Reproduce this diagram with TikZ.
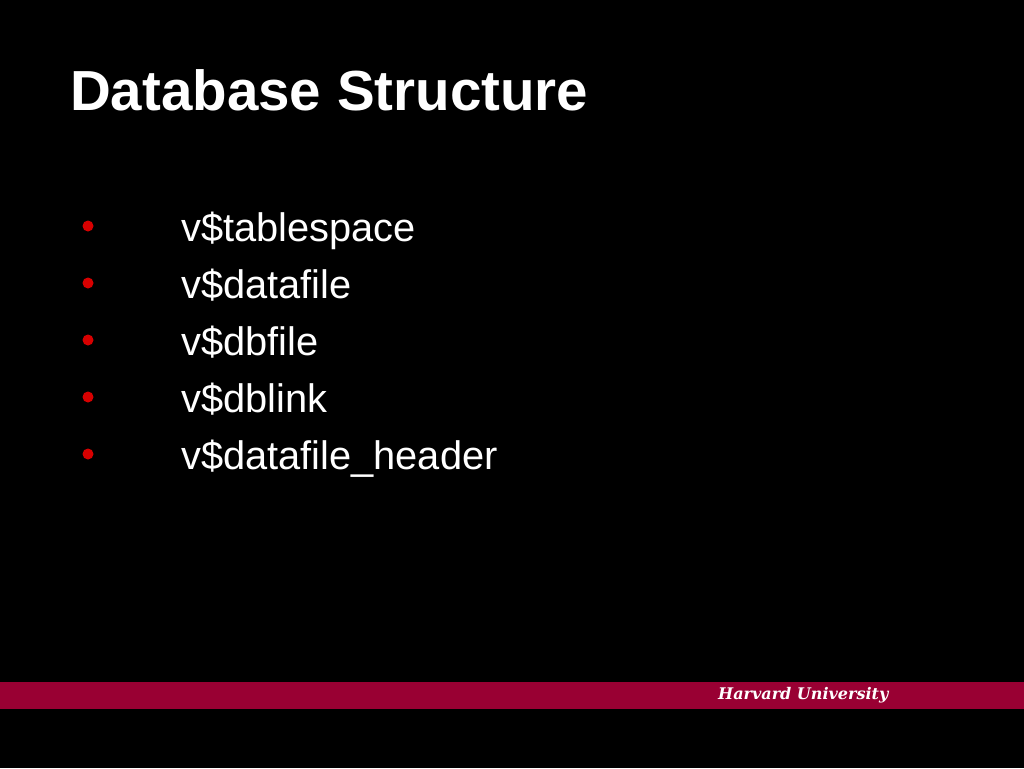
\documentclass[tikz,border=0pt]{standalone}
\usepackage{fontspec}
\setmainfont{Liberation Sans}
\newfontfamily\footfont{DejaVu Serif}
\definecolor{crimson}{RGB}{153,0,51}
\definecolor{bulletred}{RGB}{215,0,0}
\begin{document}
\begin{tikzpicture}[x=1pt,y=-1pt,
  title/.style={anchor=base west,inner sep=0pt,text=white,font=\fontsize{56.5}{60}\selectfont\bfseries},
  item/.style={anchor=base west,inner sep=0pt,text=white,font=\fontsize{39.8}{44}\selectfont},
  dot/.style={circle,fill=bulletred,inner sep=0pt,minimum size=11pt},
  foot/.style={anchor=base west,inner sep=0pt,text=white,font=\footfont\fontsize{16}{18}\selectfont\bfseries\itshape}]
\fill[black] (0,0) rectangle (1024,768);
\useasboundingbox (0,0) rectangle (1024,768);
\fill[crimson] (0,682) rectangle (1024,709);
\node[title] (t) at (70,110) {Database Structure};
\node[dot] (b1) at (88,226) {};
\node[dot] (b2) at (88,283) {};
\node[dot] (b3) at (88,340) {};
\node[dot] (b4) at (88,397) {};
\node[dot] (b5) at (88,454) {};
\node[item] (i1) at (181,241) {v\$tablespace};
\node[item] (i2) at (181,298) {v\$datafile};
\node[item] (i3) at (181,355) {v\$dbfile};
\node[item] (i4) at (181,412) {v\$dblink};
\node[item] (i5) at (181,469) {v\$datafile\_header};
\node[foot] (h) at (718,699) {Harvard University};
\end{tikzpicture}
\end{document}
